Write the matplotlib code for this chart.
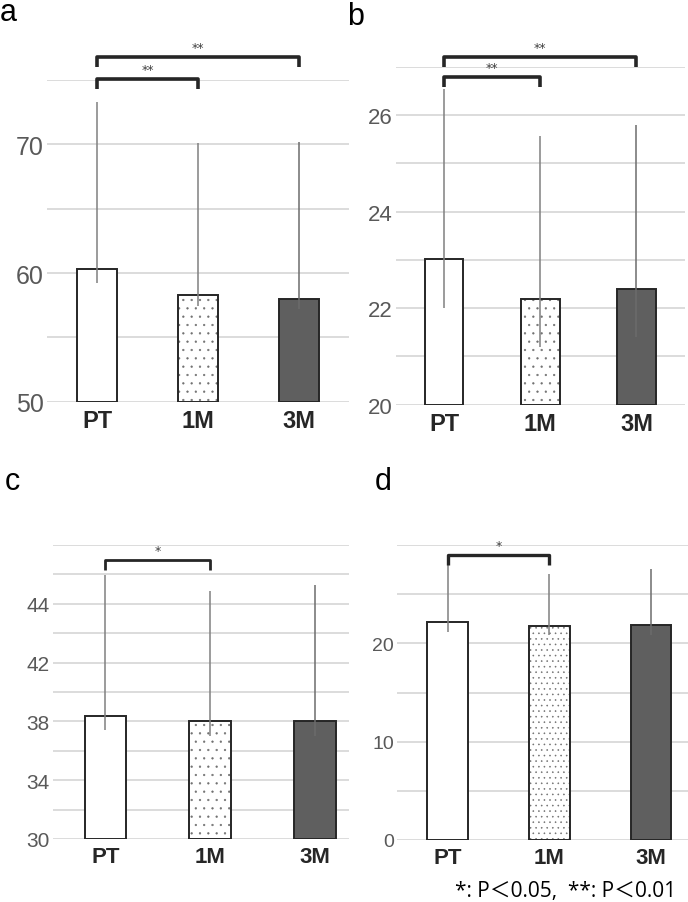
import matplotlib
matplotlib.use("Agg")
import matplotlib.pyplot as plt

W, H = 688, 903

# data
groups = ["PT", "1M", "3M"]

a_mean = [60.3, 58.3, 58.0]
a_low = [59.2, 57.4, 57.2]
a_high = [73.3, 70.1, 70.2]
a_ticks = [50, 55, 60, 65, 70, 75]
a_labels = ["50", "", "60", "", "70", ""]
a_sig = [(0, 1, 75.1, "**"), (0, 2, 76.8, "**")]

b_mean = [23.03, 22.19, 22.4]
b_low = [22.0, 21.2, 21.4]
b_high = [26.55, 25.58, 25.8]
b_ticks = [20, 21, 22, 23, 24, 25, 26, 27]
b_labels = ["20", "", "22", "", "24", "", "26", ""]
b_sig = [(0, 1, 26.8, "**"), (0, 2, 27.2, "**")]

c_mean = [38.4, 38.0, 38.0]
c_low = [37.4, 37.0, 37.0]
c_high = [47.95, 46.9, 47.3]
c_ticks = [30, 32, 34, 36, 38, 40, 42, 44, 46, 48, 50]
c_labels = ["30", "", "34", "", "38", "", "42", "", "44", "", ""]
c_sig = [(0, 1, 48.97, "*")]

d_mean = [22.15, 21.75, 21.9]
d_low = [21.2, 20.8, 20.8]
d_high = [28.0, 27.1, 27.6]
d_ticks = [0, 5, 10, 15, 20, 25, 30]
d_labels = ["0", "", "10", "", "20", "", ""]
d_sig = [(0, 1, 29.0, "*")]

plt.rcParams["hatch.linewidth"] = 0.4

fig = plt.figure(figsize=(W / 100, H / 100), dpi=100)
fig.patch.set_facecolor("white")

EDGE = "#262626"
GRID = "#d9d9d9"


def make_panel(box, xlim, mean, low, high, ticks, labels, sig,
               hatch, tick_fs, cat_fs, br_lw):
    l, t, r, b = box
    ax = fig.add_axes([l / W, 1 - b / H, (r - l) / W, (b - t) / H])
    x = list(range(len(groups)))
    ax.set_xlim(*xlim)
    ax.set_ylim(ticks[0], ticks[-1])
    ax.set_yticks(ticks)
    ax.set_yticklabels(labels, fontsize=tick_fs, color="#595959",
                       family="Liberation Sans")
    ax.set_xticks(x)
    ax.set_xticklabels(groups, fontsize=cat_fs, fontweight="bold",
                       color=EDGE, family="Liberation Sans")
    ax.tick_params(length=0)
    ax.tick_params(axis="y", pad=2)
    ax.tick_params(axis="x", pad=5)
    for s in ax.spines.values():
        s.set_visible(False)
    ax.yaxis.grid(True, color=GRID, lw=1.3, zorder=0)
    ax.set_axisbelow(True)

    base = ticks[0]
    heights = [m - base for m in mean]
    ax.bar(x[0], heights[0], 0.4, bottom=base, color="white",
           edgecolor=EDGE, lw=1.4, zorder=2)
    ax.bar(x[1], heights[1], 0.4, bottom=base, color="white",
           edgecolor="#707070", lw=0, hatch=hatch, zorder=2)
    ax.bar(x[1], heights[1], 0.4, bottom=base, fill=False,
           edgecolor=EDGE, lw=1.4, zorder=3)
    ax.bar(x[2], heights[2], 0.4, bottom=base, color="#5f5f5f",
           edgecolor=EDGE, lw=1.4, zorder=2)

    ax.vlines(x, low, high, colors=["#808080", "#808080", "#6c6c6c"],
              lw=1.1, zorder=4)

    # significance brackets, legs 10 px long
    px_per_unit = ((b - t) / (ticks[-1] - ticks[0]))
    drop = 10 / px_per_unit
    for i, j, y, txt in sig:
        ax.plot([x[i], x[i], x[j], x[j]], [y - drop, y, y, y - drop],
                color=EDGE, lw=br_lw, solid_capstyle="butt",
                clip_on=False, zorder=5)
        ax.text((x[i] + x[j]) / 2, y + 3 / px_per_unit, txt,
                ha="center", va="bottom", fontsize=9, color="#404040",
                clip_on=False)
    return ax


make_panel((46.7, 81, 349, 402.7), (-0.498, 2.495), a_mean, a_low, a_high,
           a_ticks, a_labels, a_sig, "..", 18, 17, 2.6)
make_panel((395.7, 68, 685, 405.7), (-0.502, 2.504), b_mean, b_low, b_high,
           b_ticks, b_labels, b_sig, "..", 16, 17, 2.6)
make_panel((52.7, 546, 349, 840), (-0.504, 2.325), c_mean, c_low, c_high,
           c_ticks, c_labels, c_sig, "..", 15, 16, 2.0)
make_panel((396.7, 546, 688, 841), (-0.502, 2.366), d_mean, d_low, d_high,
           d_ticks, d_labels, d_sig, "...", 14, 16, 2.4)

for lab, px, py in [("a", 0, 21), ("b", 347, 25), ("c", 5, 490), ("d", 375, 490)]:
    fig.text(px / W, 1 - py / H, lab, fontsize=22, va="baseline",
             ha="left", family="Liberation Sans")

fig.text(676 / W, 1 - 897 / H, "*: P\uff1c0.05,  **: P\uff1c0.01",
         fontsize=15, ha="right", va="baseline",
         family=["Open Sans", "Noto Sans CJK JP"])

fig.savefig("out.png", dpi=100)
